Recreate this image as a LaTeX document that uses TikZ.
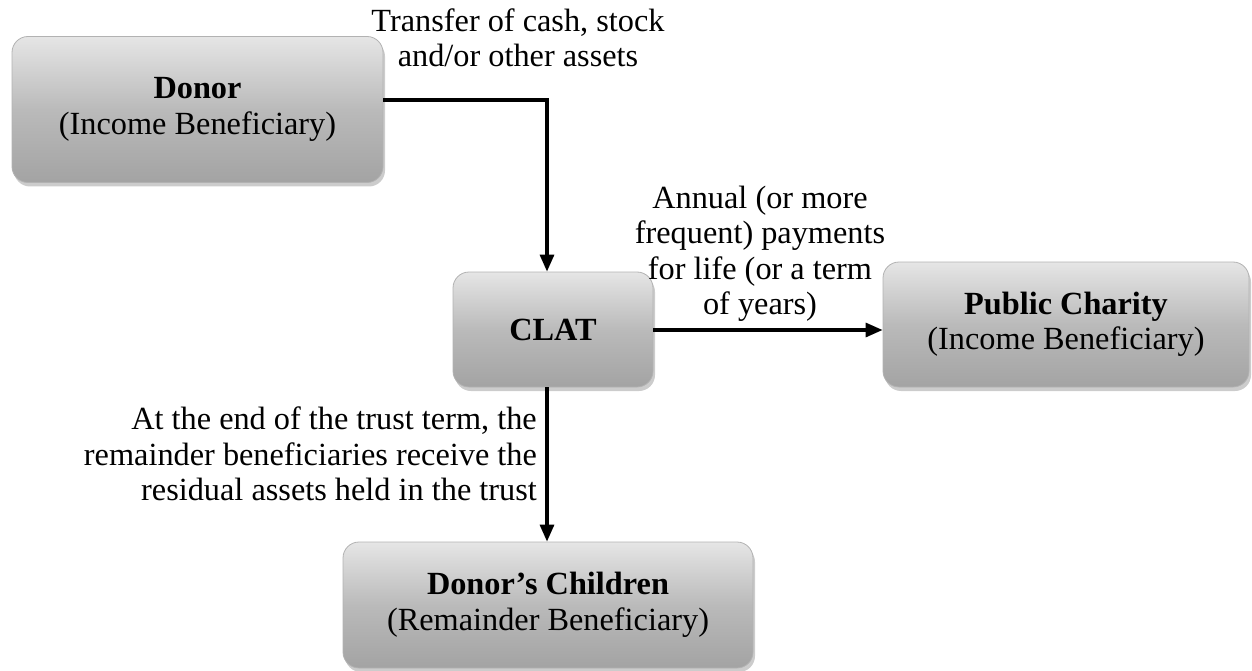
\documentclass[tikz,border=0pt]{standalone}
\usepackage{fontspec}
\setmainfont{Liberation Serif}
\usetikzlibrary{arrows.meta,shadows}
\tikzset{
  box/.style={rounded corners=16pt, draw=black!30, line width=0.8pt,
    top color=black!10, bottom color=black!36, middle color=black!27,
    drop shadow={opacity=0.4, shadow xshift=2pt, shadow yshift=-4pt},
    align=center, inner sep=0pt, font=\fontsize{32.3}{35.5}\selectfont},
  lbl/.style={align=center, inner sep=0pt, font=\fontsize{32.3}{35.5}\selectfont},
  arr/.style={line width=3.2pt, -{Triangle[length=17pt,width=14pt]}}
}
\begin{document}
\begin{tikzpicture}[x=1pt,y=-1pt]
\useasboundingbox (0,0) rectangle (1252,671);
\node[box, minimum width=371pt, minimum height=146pt] (donor) at (197.5,109.5) {\textbf{Donor}\\(Income Beneficiary)};
\node[box, minimum width=200pt, minimum height=115pt] (clat) at (553,329.5) {\textbf{CLAT}};
\node[box, minimum width=366pt, minimum height=125pt] (charity) at (1066,324.5) {\textbf{Public Charity}\\(Income Beneficiary)};
\node[box, minimum width=410pt, minimum height=126pt] (kids) at (548,605) {\textbf{Donor’s Children}\\(Remainder Beneficiary)};
\coordinate (bend) at (547,100);
\draw[arr] (donor.east |- bend) -| (bend |- clat.north);
\draw[arr] (clat.east |- 0,330) -- (charity.west |- 0,330);
\draw[arr] (bend |- clat.south) -- (bend |- kids.north);
\node[lbl] (t1) at (518,38) {Transfer of cash, stock\\and/or other assets};
\node[lbl] (t2) at (760,254) {Annual (or more\\frequent) payments\\for life (or a term\\of years)};
\node[lbl, align=right, anchor=east] (t3) at (537,454) {At the end of the trust term, the\\remainder beneficiaries receive the\\residual assets held in the trust};
\end{tikzpicture}
\end{document}
